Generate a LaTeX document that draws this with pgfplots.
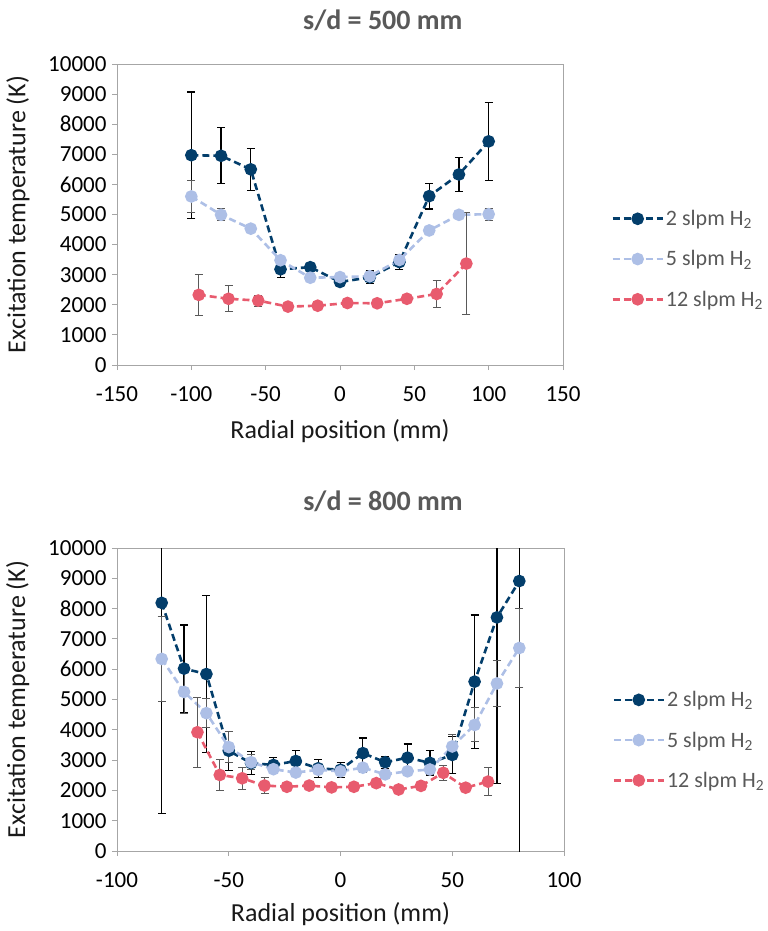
\documentclass[border=0pt]{standalone}
\usepackage{pgfplots}
\pgfplotsset{compat=1.18}
\usepackage{pgfplotstable}
\usepackage{fontspec}
\setmainfont{Carlito}
\definecolor{cA}{HTML}{033E6B}
\definecolor{cB}{HTML}{ADBFE6}
\definecolor{cC}{HTML}{E85B6E}
\definecolor{frame}{HTML}{A6A6A6}
\definecolor{ttl}{HTML}{595959}
\definecolor{ebar}{HTML}{595959}

\pgfplotstableread{
x y e
-100 6970 2100
-80 6950 930
-60 6500 690
-40 3180 280
-20 3250 130
0 2760 150
20 2910 210
40 3420 250
60 5610 430
80 6330 570
100 7430 1300
}\topA
\pgfplotstableread{
x y e
-100 5600 520
-80 4990 200
-60 4530 130
-40 3480 130
-20 2900 60
0 2920 80
20 2950 80
40 3490 130
60 4470 120
80 4990 100
100 5010 200
}\topB
\pgfplotstableread{
x y e
-95 2330 680
-75 2200 430
-55 2140 180
-35 1940 40
-15 1970 50
5 2060 50
25 2050 50
45 2200 50
65 2360 450
85 3370 1700
}\topC
\pgfplotstableread{
x y e
-80 8190 6940
-70 6020 1440
-60 5840 2600
-50 3310 640
-40 2900 380
-30 2840 240
-20 2970 360
-10 2730 300
0 2680 250
10 3230 500
20 2930 200
30 3080 450
40 2910 400
50 3170 600
60 5590 2200
70 7710 5470
80 8910 9500
}\botA
\pgfplotstableread{
x y e
-80 6340 1400
-70 5250 720
-60 4550 490
-50 3430 500
-40 2930 250
-30 2700 150
-20 2590 100
-10 2680 100
0 2630 120
10 2750 150
20 2530 100
30 2630 100
40 2690 100
50 3450 400
60 4160 560
70 5530 750
80 6700 1300
}\botB
\pgfplotstableread{
x y e
-64 3920 1160
-54 2510 500
-44 2400 370
-34 2160 250
-24 2120 100
-14 2160 100
-4 2100 50
6 2120 50
16 2240 100
26 2030 50
36 2150 80
46 2580 250
56 2090 100
66 2290 470
}\botC

\pgfplotsset{
  myaxis/.style={
    scale only axis,
    anchor=south west,
    ymin=0, ymax=10000,
    ytick={0,1000,...,10000},
    scaled y ticks=false,
    axis line style={frame, line width=1bp},
    tick style={frame, line width=1bp},
    tick align=outside,
    major tick length=5bp,
    xtick pos=bottom, ytick pos=left,
    /pgf/number format/assume math mode=true,
    /pgf/number format/set thousands separator={},
    yticklabel={\pgfmathprintnumber[fixed,precision=0]{\tick}},
    ticklabel style={font=\fontsize{23bp}{27bp}\selectfont, text=black},
    yticklabel style={xshift=-2bp},
    xticklabel style={yshift=-13bp},
    label style={font=\fontsize{26bp}{30bp}\selectfont, text=black!90},
    title style={font=\fontsize{28bp}{32bp}\selectfont\bfseries, text=ttl, anchor=base},
    legend style={draw=none, fill=none, anchor=west, inner sep=0pt,
      font=\fontsize{22bp}{26bp}\selectfont, text=ttl, row sep=19.5bp,
      cells={anchor=west}},
    legend cell align=left,
    legend image code/.code={
      \draw[##1, mark repeat=2, mark phase=2] plot coordinates {(0bp,0bp) (25bp,0bp) (50bp,0bp)};
    },
  },
  serA/.style={color=cA, line width=2.6bp, dash pattern=on 7bp off 4bp, mark=*, mark size=5bp, mark options={solid},
    error bars/.cd, y dir=both, y explicit,
    error bar style={solid, line width=1.2bp, black},
    error mark options={solid, rotate=90, mark size=4bp, line width=1.2bp, black}},
  serB/.style={color=cB, line width=2.6bp, dash pattern=on 7bp off 4bp, mark=*, mark size=5bp, mark options={solid},
    error bars/.cd, y dir=both, y explicit,
    error bar style={solid, line width=1bp, ebar},
    error mark options={solid, rotate=90, mark size=4bp, line width=1bp, ebar}},
  serC/.style={color=cC, line width=2.6bp, dash pattern=on 7bp off 4bp, mark=*, mark size=5bp, mark options={solid},
    error bars/.cd, y dir=both, y explicit,
    error bar style={solid, line width=1bp, ebar},
    error mark options={solid, rotate=90, mark size=4bp, line width=1bp, ebar}},
}

\begin{document}
\begin{tikzpicture}
\useasboundingbox (0bp,0bp) rectangle (768bp,-931bp);
\begin{axis}[myaxis,
  at={(117bp,-365bp)}, width=446bp, height=301bp,
  xmin=-150, xmax=150, xtick={-150,-100,...,150},
  title={s/d = 500 mm}, title style={at={(0.596,1.096)}},
  xlabel={Radial position (mm)}, xlabel style={at={(0.5,-0.245)}, anchor=base},
  ylabel={Excitation temperature (K)}, ylabel style={at={(-0.222,0.5)}, anchor=center},
  legend style={at={(1.108,0.352)}},
]
\addplot[serA] table[x=x, y=y, y error=e] {\topA};
\addlegendentry{2 slpm H\textsubscript{2}}
\addplot[serB] table[x=x, y=y, y error=e] {\topB};
\addlegendentry{5 slpm H\textsubscript{2}}
\addplot[serC] table[x=x, y=y, y error=e] {\topC};
\addlegendentry{12 slpm H\textsubscript{2}}
\end{axis}
\begin{axis}[myaxis,
  at={(117bp,-851bp)}, width=447bp, height=303bp,
  xmin=-100, xmax=100, xtick={-100,-50,...,100},
  title={s/d = 800 mm}, title style={at={(0.595,1.105)}},
  xlabel={Radial position (mm)}, xlabel style={at={(0.5,-0.232)}, anchor=base},
  ylabel={Excitation temperature (K)}, ylabel style={at={(-0.222,0.5)}, anchor=center},
  legend style={at={(1.108,0.366)}},
]
\addplot[serA] table[x=x, y=y, y error=e] {\botA};
\addlegendentry{2 slpm H\textsubscript{2}}
\addplot[serB] table[x=x, y=y, y error=e] {\botB};
\addlegendentry{5 slpm H\textsubscript{2}}
\addplot[serC] table[x=x, y=y, y error=e] {\botC};
\addlegendentry{12 slpm H\textsubscript{2}}
\end{axis}
\end{tikzpicture}
\end{document}
